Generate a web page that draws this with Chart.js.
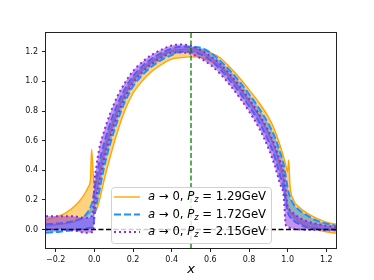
<!DOCTYPE html>
<html>
<head>
<meta charset="utf-8" />
<title>a -> 0 bands</title>
<script src="https://cdn.jsdelivr.net/npm/chart.js"></script>
<style>
  body { margin: 0; background: #fff; }
</style>
</head>
<body>
<canvas id="bandChart" width="374" height="280"></canvas>
<script>
  // shared x grid for every band edge
  const xs = [-0.25, -0.2, -0.15, -0.1, -0.06, -0.03, -0.02, -0.014, -0.008, -0.003,
    0.0, 0.01, 0.025, 0.05, 0.08, 0.12, 0.16, 0.2, 0.25, 0.3,
    0.35, 0.4, 0.45, 0.5, 0.55, 0.6, 0.65, 0.7, 0.75, 0.8,
    0.85, 0.9, 0.93, 0.96, 0.98, 0.99, 1.0, 1.005, 1.012, 1.03,
    1.06, 1.1, 1.15, 1.2, 1.25];

  // Pz = 1.29 GeV band
  const orangeLow = [0.025, 0.03, 0.04, 0.055, 0.08, 0.105, 0.115, 0.12, 0.125, 0.125,
    0.12, 0.13, 0.19, 0.33, 0.48, 0.661, 0.811, 0.92, 1.006, 1.07,
    1.116, 1.15, 1.161, 1.166, 1.162, 1.137, 1.1, 1.03, 0.952, 0.865,
    0.77, 0.65, 0.56, 0.43, 0.33, 0.26, 0.17, 0.15, 0.12, 0.09,
    0.05, 0.02, 0.0, -0.015, -0.025];
  const orangeHigh = [0.065, 0.085, 0.11, 0.16, 0.22, 0.29, 0.34, 0.54, 0.42, 0.33,
    0.3, 0.33, 0.38, 0.527, 0.663, 0.809, 0.924, 1.012, 1.085, 1.139,
    1.178, 1.207, 1.215, 1.22, 1.212, 1.195, 1.16, 1.097, 1.025, 0.945,
    0.86, 0.76, 0.68, 0.57, 0.485, 0.435, 0.39, 0.47, 0.3, 0.2,
    0.15, 0.11, 0.075, 0.05, 0.035];

  // Pz = 1.72 GeV band
  const blueLow = [-0.022, -0.018, -0.01, -0.003, 0.003, 0.01, 0.012, 0.015, 0.02, 0.04,
    0.08, 0.16, 0.254, 0.419, 0.571, 0.735, 0.867, 0.966, 1.045, 1.104,
    1.147, 1.178, 1.201, 1.2, 1.183, 1.145, 1.082, 1.009, 0.927, 0.834,
    0.73, 0.6, 0.502, 0.367, 0.272, 0.2, 0.12, 0.1, 0.085, 0.06,
    0.035, 0.015, 0.005, 0.0, -0.005];
  const blueHigh = [0.035, 0.04, 0.045, 0.06, 0.08, 0.125, 0.15, 0.17, 0.2, 0.24,
    0.27, 0.34, 0.446, 0.581, 0.709, 0.846, 0.953, 1.035, 1.105, 1.156,
    1.193, 1.222, 1.235, 1.233, 1.227, 1.195, 1.14, 1.075, 1.0, 0.915,
    0.822, 0.715, 0.635, 0.525, 0.435, 0.36, 0.28, 0.25, 0.22, 0.17,
    0.13, 0.095, 0.06, 0.04, 0.025];

  // Pz = 2.15 GeV band
  const purpleLow = [0.0, 0.0, 0.0, -0.008, -0.02, -0.022, -0.02, -0.018, -0.015, 0.02,
    0.12, 0.22, 0.318, 0.473, 0.617, 0.772, 0.896, 0.989, 1.065, 1.121,
    1.162, 1.193, 1.195, 1.186, 1.155, 1.112, 1.053, 0.978, 0.893, 0.798,
    0.69, 0.551, 0.444, 0.31, 0.22, 0.03, 0.02, 0.015, 0.01, 0.005,
    0.0, -0.002, -0.004, -0.005, -0.005];
  const purpleHigh = [0.09, 0.09, 0.09, 0.088, 0.08, 0.08, 0.085, 0.09, 0.1, 0.2,
    0.3, 0.42, 0.542, 0.661, 0.777, 0.901, 0.995, 1.069, 1.134, 1.182,
    1.216, 1.243, 1.249, 1.24, 1.212, 1.17, 1.12, 1.05, 0.971, 0.882,
    0.783, 0.667, 0.579, 0.464, 0.376, 0.26, 0.15, 0.14, 0.13, 0.11,
    0.08, 0.055, 0.038, 0.025, 0.015];

  const pzLabels = ['1.29', '1.72', '2.15'];
  const xTicks = [-0.2, 0.0, 0.2, 0.4, 0.6, 0.8, 1.0, 1.2];
  const yTicks = [0.0, 0.2, 0.4, 0.6, 0.8, 1.0, 1.2];
  const xRange = [-0.25, 1.25];
  const yRange = [-0.125, 1.327];
  const zeroY = 0;
  const midX = 0.5;

  const styles = [
    { color: '#FFA500', fill: 'rgba(255,165,0,0.5)', dash: [], width: 1.4 },
    { color: '#1E90FF', fill: 'rgba(30,144,255,0.5)', dash: [7, 3], width: 2 },
    { color: '#8A2BE2', fill: 'rgba(138,43,226,0.5)', dash: [2, 3], width: 2 }
  ];

  function edge(ys, st, order, fill) {
    return {
      data: xs.map((x, i) => ({ x, y: ys[i] })),
      borderColor: st.color,
      borderWidth: st.width,
      borderDash: st.dash,
      borderCapStyle: 'butt',
      backgroundColor: st.fill,
      fill: fill,
      order: order,
      pointRadius: 0,
      cubicInterpolationMode: 'monotone'
    };
  }

  const fmt = v => (v < 0 ? '\u2212' : '') + Math.abs(v).toFixed(1);

  function drawLabel(ctx, x, y, pz) {
    const parts = [
      ['a', 'italic', 0, 11.7],
      [' \u2192 0, ', 'normal', 0, 11.7],
      ['P', 'italic', 0, 11.7],
      ['z', 'italic', 3, 8.2],
      [' = ' + pz + 'GeV', 'normal', 0, 11.7]
    ];
    ctx.textBaseline = 'middle';
    ctx.textAlign = 'left';
    ctx.fillStyle = '#000';
    for (const [t, style, dy, size] of parts) {
      ctx.font = style + ' ' + size + 'px "DejaVu Sans"';
      ctx.fillText(t, x, y + dy);
      x += ctx.measureText(t).width;
    }
  }

  const framePlugin = {
    id: 'frameAndLegend',
    afterDraw(chart) {
      const ctx = chart.ctx;
      const a = chart.chartArea;
      ctx.save();
      // axes box
      ctx.strokeStyle = '#222';
      ctx.lineWidth = 1;
      ctx.strokeRect(a.left - 0.5, a.top - 0.5, a.right - a.left + 1, a.bottom - a.top + 1);
      // legend
      ctx.beginPath();
      ctx.roundRect(111.5, 187.5, 160, 56, 3);
      ctx.fillStyle = 'rgba(255,255,255,0.8)';
      ctx.fill();
      ctx.strokeStyle = 'rgba(204,204,204,0.9)';
      ctx.stroke();
      styles.forEach((st, i) => {
        const y = 197 + i * 17.5;
        ctx.beginPath();
        ctx.setLineDash(st.dash);
        ctx.strokeStyle = st.color;
        ctx.lineWidth = st.width;
        ctx.moveTo(114, y);
        ctx.lineTo(140, y);
        ctx.stroke();
        ctx.setLineDash([]);
        drawLabel(ctx, 148, y, pzLabels[i]);
      });
      ctx.restore();
    }
  };

  new Chart(document.getElementById('bandChart'), {
    type: 'line',
    data: {
      datasets: [
        edge(orangeLow, styles[0], 3, false),
        edge(orangeHigh, styles[0], 3, '-1'),
        edge(blueLow, styles[1], 2, false),
        edge(blueHigh, styles[1], 2, '-1'),
        edge(purpleLow, styles[2], 1, false),
        edge(purpleHigh, styles[2], 1, '-1'),
        {
          data: xRange.map(x => ({ x, y: zeroY })),
          borderColor: '#000', borderWidth: 1.3, borderDash: [5, 2.5],
          pointRadius: 0, fill: false, order: 0
        },
        {
          data: yRange.map(y => ({ x: midX, y })),
          borderColor: 'green', borderWidth: 1.3, borderDash: [5, 2.5],
          pointRadius: 0, fill: false, order: 0
        }
      ]
    },
    options: {
      responsive: false,
      animation: false,
      layout: { padding: { left: 0, right: 38, top: 33, bottom: 0 } },
      plugins: { legend: { display: false }, tooltip: { enabled: false } },
      scales: {
        x: {
          type: 'linear', min: xRange[0], max: xRange[1],
          afterBuildTicks: s => { s.ticks = xTicks.map(v => ({ value: v })); },
          afterFit: s => { s.height = 32; },
          ticks: { callback: fmt, autoSkip: false, maxRotation: 0, padding: 3,
                   color: '#111', font: { size: 8, family: 'DejaVu Sans' } },
          grid: { drawOnChartArea: false, tickLength: 4, color: '#222' },
          border: { display: false },
          title: { display: true, text: 'x', color: '#000',
                   font: { size: 13, style: 'italic', family: 'DejaVu Sans' },
                   padding: { top: 0, bottom: 3 } }
        },
        y: {
          type: 'linear', min: yRange[0], max: yRange[1],
          afterBuildTicks: s => { s.ticks = yTicks.map(v => ({ value: v })); },
          afterFit: s => { s.width = 46; },
          ticks: { callback: fmt, padding: 4, color: '#111',
                   font: { size: 8, family: 'DejaVu Sans' } },
          grid: { drawOnChartArea: false, tickLength: 4, color: '#222' },
          border: { display: false }
        }
      }
    },
    plugins: [framePlugin]
  });
</script>
</body>
</html>
